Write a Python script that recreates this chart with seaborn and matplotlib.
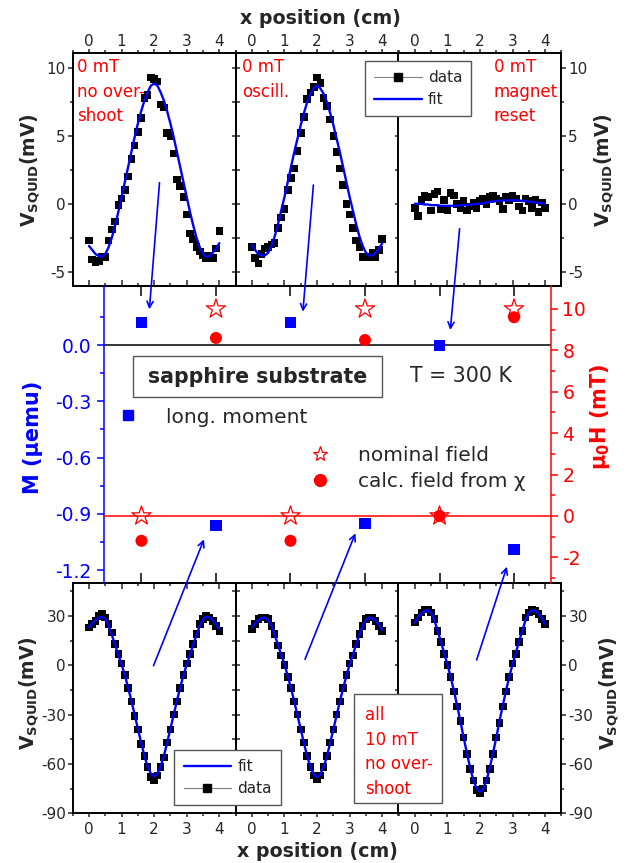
import matplotlib
matplotlib.use("Agg")
import matplotlib.pyplot as plt
import seaborn as sns
from matplotlib.lines import Line2D
from matplotlib.patches import FancyArrowPatch, Rectangle
from matplotlib.ticker import MultipleLocator, FixedLocator

W, H = 629, 863

# scan positions (cm)
x_cm = [0.0, 0.1, 0.2, 0.3, 0.4, 0.5, 0.6, 0.7, 0.8, 0.9, 1.0,
        1.1, 1.2, 1.3, 1.4, 1.5, 1.6, 1.7, 1.8, 1.9, 2.0,
        2.1, 2.2, 2.3, 2.4, 2.5, 2.6, 2.7, 2.8, 2.9, 3.0,
        3.1, 3.2, 3.3, 3.4, 3.5, 3.6, 3.7, 3.8, 3.9, 4.0]

# top row: 0 mT scans (mV)
data_top1 = [-2.7, -4.1, -4.3, -4.2, -3.9, -3.9, -2.7, -1.9, -1.3, -0.1, 0.4,
             1.0, 2.0, 3.3, 4.3, 5.3, 6.3, 7.8, 8.0, 9.3, 9.2,
             9.0, 7.3, 7.1, 5.2, 5.0, 3.7, 1.8, 1.3, 0.5, -0.8,
             -2.2, -2.6, -3.2, -3.5, -3.8, -4.0, -3.8, -4.0, -3.3, -2.0]
fit_top1 = [-3.1, -3.4, -3.7, -3.85, -3.9, -3.7, -3.2, -2.5, -1.6, -0.6, 0.5,
            1.6, 2.7, 3.8, 4.9, 5.9, 6.8, 7.6, 8.2, 8.7, 8.85,
            8.7, 8.2, 7.6, 6.8, 5.9, 4.9, 3.8, 2.7, 1.6, 0.5,
            -0.6, -1.6, -2.5, -3.2, -3.7, -3.9, -3.85, -3.6, -3.3, -2.9]
data_top2 = [-3.2, -4.0, -4.4, -3.7, -3.3, -3.2, -3.0, -2.9, -1.8, -1.0, -0.4,
             1.0, 1.9, 2.6, 3.9, 5.2, 6.4, 7.7, 8.2, 8.6, 9.3,
             8.9, 7.8, 7.2, 6.2, 5.0, 3.8, 2.6, 1.4, 0.0, -0.8,
             -1.8, -2.7, -3.2, -3.9, -3.9, -3.9, -3.6, -3.9, -3.4, -2.6]
fit_top2 = [-3.0, -3.4, -3.7, -3.8, -3.8, -3.6, -3.1, -2.4, -1.5, -0.5, 0.5,
            1.6, 2.7, 3.8, 4.8, 5.8, 6.7, 7.5, 8.1, 8.5, 8.7,
            8.5, 8.1, 7.5, 6.7, 5.8, 4.8, 3.8, 2.7, 1.6, 0.5,
            -0.5, -1.5, -2.4, -3.1, -3.6, -3.8, -3.8, -3.6, -3.3, -2.9]
data_top3 = [-0.3, -0.9, 0.3, 0.6, 0.5, -0.5, 0.7, 0.9, -0.4, 0.3, -0.5,
             0.8, 0.6, 0.0, -0.3, 0.2, -0.5, -0.2, 0.1, -0.3, 0.2,
             0.4, 0.0, 0.5, 0.6, 0.4, 0.2, -0.4, 0.5, 0.3, 0.6,
             0.4, -0.2, -0.5, 0.4, 0.2, -0.3, 0.3, -0.6, 0.1, -0.3]
fit_top3 = [0.0, 0.0, 0.0, -0.05, -0.05, -0.1, -0.1, -0.1, -0.15, -0.15, -0.15,
            -0.15, -0.15, -0.15, -0.1, -0.1, -0.1, -0.05, -0.05, 0.0, 0.0,
            0.05, 0.1, 0.15, 0.15, 0.2, 0.2, 0.25, 0.25, 0.25, 0.25,
            0.25, 0.25, 0.2, 0.2, 0.15, 0.15, 0.1, 0.05, 0.05, 0.0]

# bottom row: 10 mT scans (mV)
data_bot1 = [23, 25, 27, 30, 31, 29, 25, 20, 13, 7, 1,
             -6, -14, -22, -31, -39, -48, -55, -62, -68, -70,
             -67, -62, -56, -47, -39, -30, -22, -14, -6, 1,
             7, 13, 19, 25, 28, 30, 29, 27, 24, 21]
fit_bot1 = [23, 25.5, 27.5, 29, 29.5, 28, 24, 18.5, 12.5, 6.5, 0.5,
            -6, -13.5, -21.5, -30, -38.5, -47, -55, -61.5, -66, -67.5,
            -66, -61.5, -55, -47, -38.5, -30, -21.5, -13.5, -6, 0.5,
            6.5, 12.5, 18.5, 24, 28, 29.5, 29, 27.5, 25, 22]
data_bot2 = [22, 25, 28, 29, 29, 28, 24, 19, 12, 6, 0,
             -7, -14, -22, -30, -39, -47, -55, -62, -67, -69,
             -67, -62, -55, -47, -39, -30, -22, -14, -6, 1,
             6, 13, 19, 24, 28, 29, 29, 27, 24, 21]
fit_bot2 = [23, 25.5, 27.5, 28.5, 29, 27.5, 24, 18.5, 12.5, 6.5, 0.5,
            -6.5, -14, -22, -30.5, -39, -47.5, -55.5, -62, -66.5, -68,
            -66.5, -62, -55.5, -47.5, -39, -30.5, -22, -14, -6.5, 0.5,
            6.5, 12.5, 18.5, 24, 27.5, 29, 28.5, 27, 24.5, 21.5]
data_bot3 = [26, 29, 32, 34, 34, 32, 28, 21, 14, 7, 0,
             -7, -16, -25, -34, -44, -54, -63, -70, -76, -78,
             -75, -70, -63, -54, -44, -35, -25, -16, -7, 1,
             7, 14, 21, 29, 32, 34, 33, 31, 28, 25]
fit_bot3 = [26, 29, 31.5, 33, 33.5, 32, 27.5, 21, 14.5, 7.5, 0.5,
            -7, -15.5, -24.5, -34, -44, -53.5, -62.5, -70, -75, -77,
            -75, -70, -62.5, -53.5, -44, -34, -24.5, -15.5, -7, 0.5,
            7.5, 14.5, 21, 27.5, 32, 33.5, 33, 31.5, 28.5, 25]

# middle: summary per measurement
meas = [1, 2, 3, 4, 5, 6]
moment = [0.12, -0.96, 0.12, -0.95, 0.0, -1.09]      # uemu
nominal_field = [0, 10, 0, 10, 0, 10]                # mT
calc_field = [-1.2, 8.6, -1.2, 8.5, 0.0, 9.6]        # mT

top_notes = ["0 mT\nno over-\nshoot", "0 mT\noscill.", "0 mT\nmagnet\nreset"]

sns.set_theme(style="ticks")
plt.rcParams["font.family"] = ["DejaVu Sans"]
plt.rcParams["mathtext.fontset"] = "dejavusans"
plt.rcParams["axes.unicode_minus"] = False


def px(x, y):
    return x / W, 1 - y / H


def box(x0, y0, x1, y1):
    return [x0 / W, 1 - y1 / H, (x1 - x0) / W, (y1 - y0) / H]


fig = plt.figure(figsize=(W / 100, H / 100), dpi=100)

PW = 162.9
X0 = 72.7
FRAME = 1.4
TS = 11


def scan_panel(ax, data, fit, ylim, ymaj, ymin, top_row, col):
    sns.scatterplot(x=x_cm, y=data, ax=ax, marker="s", s=30, color="black",
                    edgecolor="none", zorder=3)
    sns.lineplot(x=x_cm, y=fit, ax=ax, color="blue", lw=1.7, zorder=4)
    ax.set_xlim(-0.5, 4.5)
    ax.set_ylim(*ylim)
    ax.set_xlabel("")
    ax.set_ylabel("")
    for s in ax.spines.values():
        s.set_visible(True)
        s.set_linewidth(FRAME)
        s.set_color("black")
    ax.xaxis.set_major_locator(MultipleLocator(1))
    ax.xaxis.set_minor_locator(MultipleLocator(0.5))
    ax.yaxis.set_major_locator(MultipleLocator(ymaj))
    ax.yaxis.set_minor_locator(MultipleLocator(ymin))
    # outer edge: outward ticks with labels
    ax.tick_params(axis="x", which="both", direction="out", top=top_row,
                   bottom=not top_row, labeltop=top_row,
                   labelbottom=not top_row, labelsize=TS, width=1.1,
                   pad=0.2 if top_row else 3.0)
    ax.tick_params(axis="x", which="major", length=3)
    ax.tick_params(axis="x", which="minor", length=2)
    # inner edge: inward ticks
    sec = ax.secondary_xaxis("bottom" if top_row else "top")
    sec.xaxis.set_major_locator(MultipleLocator(1))
    sec.xaxis.set_minor_locator(MultipleLocator(0.5))
    sec.tick_params(axis="x", which="both", direction="in", width=1.1,
                    labelbottom=False, labeltop=False)
    sec.tick_params(axis="x", which="major", length=4)
    sec.tick_params(axis="x", which="minor", length=2.5)
    for s in sec.spines.values():
        s.set_linewidth(FRAME)
    if col == 0:
        ax.tick_params(axis="y", which="both", direction="out", left=True,
                       right=False, labelleft=True, labelright=False,
                       labelsize=TS, width=1.1, pad=1.5)
        ax.tick_params(axis="y", which="major", length=3.5)
        ax.tick_params(axis="y", which="minor", length=2.2)
    elif col == 1:
        ax.tick_params(axis="y", which="both", direction="inout", left=True,
                       right=True, labelleft=False, labelright=False,
                       width=1.1, length=6)
    else:
        ax.tick_params(axis="y", which="both", direction="out", left=False,
                       right=True, labelleft=False, labelright=True,
                       labelsize=TS, width=1.1, pad=1.5)
        ax.tick_params(axis="y", which="major", length=3.5)
        ax.tick_params(axis="y", which="minor", length=2.2)


top_sets = [(data_top1, fit_top1), (data_top2, fit_top2), (data_top3, fit_top3)]
bot_sets = [(data_bot1, fit_bot1), (data_bot2, fit_bot2), (data_bot3, fit_bot3)]

for i, (d, f) in enumerate(top_sets):
    ax = fig.add_axes(box(X0 + i * PW, 53, X0 + (i + 1) * PW, 286))
    ax.set_facecolor("white")
    scan_panel(ax, d, f, (-6.05, 11.1), 5, 2.5, True, i)

for i, (d, f) in enumerate(bot_sets):
    ax = fig.add_axes(box(X0 + i * PW, 583, X0 + (i + 1) * PW, 813.3))
    ax.set_facecolor("white")
    scan_panel(ax, d, f, (-90, 50), 30, 15, False, i)

# middle summary panel
axm = fig.add_axes(box(104.2, 286, 551.3, 583))
axm.patch.set_alpha(0)
axr = axm.twinx()
axm.axhline(0, color="black", lw=1.1, zorder=1)
axr.axhline(0, color="red", lw=1.1, zorder=1)
sns.scatterplot(x=meas, y=moment, ax=axm, marker="s", s=64, color="blue",
                edgecolor="none", zorder=3)
sns.scatterplot(x=meas, y=calc_field, ax=axr, marker="o", s=75, color="red",
                edgecolor="none", zorder=3)
sns.scatterplot(x=meas, y=nominal_field, ax=axr, marker="*", s=210,
                facecolor="none", edgecolor="red", linewidth=0.9, zorder=4)
axm.set_xlim(0.5, 6.5)
axm.set_ylim(-1.269, 0.315)
axr.set_ylim(-3.24, 11.11)
axm.set_xlabel("")
axm.set_ylabel("")
axr.set_ylabel("")
for a in (axm, axr):
    for s in a.spines.values():
        s.set_visible(False)
axm.spines["left"].set_visible(True)
axm.spines["left"].set_color("blue")
axm.spines["left"].set_linewidth(1.1)
axr.spines["right"].set_visible(True)
axr.spines["right"].set_color("red")
axr.spines["right"].set_linewidth(1.1)
axm.xaxis.set_major_locator(FixedLocator(meas))
axm.tick_params(axis="x", which="major", direction="in", top=True, bottom=True,
                labelbottom=False, labeltop=False, length=7, width=1.1,
                color="black")
axm.yaxis.set_major_locator(FixedLocator([0.0, -0.3, -0.6, -0.9, -1.2]))
axm.yaxis.set_minor_locator(FixedLocator([0.15, -0.15, -0.45, -0.75, -1.05]))
axm.yaxis.set_major_formatter(plt.FormatStrFormatter("%.1f"))
axm.tick_params(axis="y", which="both", direction="out", colors="blue",
                labelsize=13.5, width=1.1, pad=4)
axm.tick_params(axis="y", which="major", length=5)
axm.tick_params(axis="y", which="minor", length=3)
axr.yaxis.set_major_locator(FixedLocator([-2, 0, 2, 4, 6, 8, 10]))
axr.yaxis.set_minor_locator(FixedLocator([-3, -1, 1, 3, 5, 7, 9]))
axr.tick_params(axis="y", which="both", direction="out", colors="red",
                labelsize=13.5, width=1.1, pad=3)
axr.tick_params(axis="y", which="major", length=5)
axr.tick_params(axis="y", which="minor", length=3)

# axis labels
vlab = r"$\mathbf{V_{SQUID}}$(mV)"
for (lx, ly) in [(30, 170), (604, 170), (29, 693), (609, 693)]:
    fig.text(*px(lx, ly), vlab, rotation=90, ha="center", va="center",
             fontsize=13.5, weight="bold")
fig.text(*px(33, 437), "M (µemu)", rotation=90, ha="center", va="center",
         fontsize=15, weight="bold", color="blue")
fig.text(*px(600, 417), r"$\mathbf{\mu_0H}$ (mT)", rotation=90, ha="center",
         va="center", fontsize=15, weight="bold", color="red")
fig.text(*px(320, 19), "x position (cm)", ha="center", va="center",
         fontsize=13.7, weight="bold")
fig.text(*px(317, 851), "x position (cm)", ha="center", va="center",
         fontsize=13.7, weight="bold")

# red notes
for xl, note in zip([76.7, 242.5, 493.5], top_notes):
    fig.text(*px(xl, 58), note, ha="left", va="top", fontsize=12,
             color="red", linespacing=1.47)
fig.add_artist(Rectangle(px(354.2, 803), (442.3 - 354.2) / W, (803 - 694) / H,
                         transform=fig.transFigure, facecolor="white",
                         edgecolor="#555555", lw=1.0, zorder=5))
fig.text(*px(364.7, 706), "all\n10 mT\nno over-\nshoot", ha="left", va="top",
         fontsize=12, color="red", linespacing=1.47, zorder=6)

# middle annotations
fig.add_artist(Rectangle(px(133.3, 396.7), (381.7 - 133.3) / W, (396.7 - 356) / H,
                         transform=fig.transFigure, facecolor="white",
                         edgecolor="#555555", lw=1.0, zorder=5))
fig.text(*px(257.5, 376.5), "sapphire substrate", ha="center", va="center",
         fontsize=14.8, weight="bold", zorder=6)
fig.text(*px(410, 376), "T = 300 K", ha="left", va="center", fontsize=14.8)

h_sq = Line2D([], [], marker="s", ls="none", color="blue", ms=7)
h_st = Line2D([], [], marker="*", ls="none", mfc="white", mec="red", ms=11,
              mew=0.9)
h_ci = Line2D([], [], marker="o", ls="none", color="red", ms=8.5)
lg1 = fig.legend([h_sq], ["long. moment"], loc="center left",
                 bbox_to_anchor=px(118, 417), frameon=False, fontsize=14.5,
                 handlelength=1.0, handletextpad=1.37, borderpad=0,
                 borderaxespad=0)
lg2 = fig.legend([h_st, h_ci], ["nominal field", "calc. field from χ"],
                 loc="center left", bbox_to_anchor=px(310.2, 468.7),
                 frameon=False, fontsize=14.5, handlelength=1.0,
                 handletextpad=1.37, borderpad=0, borderaxespad=0,
                 labelspacing=0.35)

# data / fit legends
h_data = Line2D([], [], color="gray", lw=0.8, marker="s", mfc="black",
                mec="black", ms=6)
h_fit = Line2D([], [], color="blue", lw=1.7)
lg3 = fig.legend([h_data, h_fit], ["data", "fit"], loc="upper left",
                 bbox_to_anchor=px(365.1, 61), fontsize=11, handlelength=3.1,
                 handletextpad=0.4, borderpad=0.6, borderaxespad=0,
                 labelspacing=0.45, fancybox=False, framealpha=1,
                 edgecolor="#555555")
lg3.get_frame().set_linewidth(1.0)
lg4 = fig.legend([h_fit, h_data], ["fit", "data"], loc="upper left",
                 bbox_to_anchor=px(174.5, 750), fontsize=11, handlelength=3.1,
                 handletextpad=0.4, borderpad=0.6, borderaxespad=0,
                 labelspacing=0.45, fancybox=False, framealpha=1,
                 edgecolor="#555555")
lg4.get_frame().set_linewidth(1.0)

# arrows from scans to the summary points
arrows = [((159.5, 182.7), (149.4, 309.3)),
          ((313.4, 185.0), (302.9, 311.7)),
          ((459.6, 228.7), (450.3, 330.0)),
          ((153.5, 665.7), (204.0, 539.3)),
          ((305.0, 659.3), (355.4, 533.3)),
          ((476.6, 660.0), (506.9, 566.7))]
for base, tip in arrows:
    fig.add_artist(FancyArrowPatch(px(*base), px(*tip),
                                   transform=fig.transFigure,
                                   arrowstyle="->", mutation_scale=11,
                                   color="blue", lw=1.2, zorder=7,
                                   shrinkA=0, shrinkB=0))

fig.savefig("out.png", dpi=100)
